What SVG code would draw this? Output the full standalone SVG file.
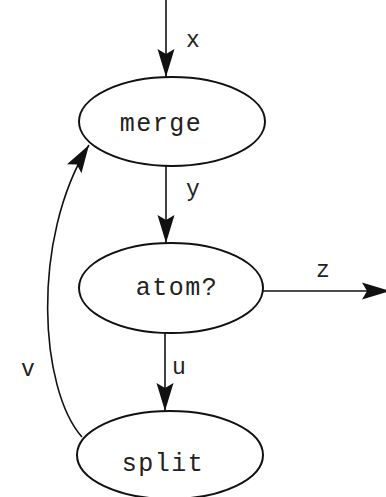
<svg xmlns="http://www.w3.org/2000/svg" width="386" height="497" viewBox="0 0 386 497">
<defs>
<style>
.node ellipse{fill:none;stroke:#111;stroke-width:2}
.lbl{font-family:"Liberation Mono","DejaVu Sans Mono",monospace;font-size:25px;letter-spacing:1.5px;fill:#222;text-anchor:middle}
.elbl{font-family:"Liberation Mono","DejaVu Sans Mono",monospace;font-size:23px;fill:#222;text-anchor:middle}
.edge{fill:none;stroke:#111;stroke-width:1.6;marker-end:url(#ah)}
</style>
<marker id="ah" markerUnits="userSpaceOnUse" markerWidth="40" markerHeight="30" viewBox="-30 -15 32 30" refX="0" refY="0" orient="auto">
<path d="M0,0 L-28,-8.5 L-23,0 L-28,8.5 Z" fill="#111"/>
</marker>
</defs>
<rect width="386" height="497" fill="#fff"/>
<g id="connectors">
<path class="edge" d="M166,0 L166,77"/>
<path class="edge" d="M166,166 L166,243"/>
<path class="edge" d="M165,332 L165,411"/>
<path class="edge" d="M263,291 L390,291"/>
<path class="edge" d="M82,437 C40,390 30,240 89,145"/>
<text class="elbl" x="193" y="47">x</text>
<text class="elbl" x="193" y="196">y</text>
<text class="elbl" x="179" y="374">u</text>
<text class="elbl" x="323" y="277">z</text>
<text class="elbl" x="28" y="376">v</text>
</g>
<g id="merge" class="node">
<ellipse cx="172" cy="121.5" rx="93" ry="44.5"/>
<text class="lbl" x="161" y="131">merge</text>
</g>
<g id="atom" class="node">
<ellipse cx="171" cy="288" rx="92" ry="45"/>
<text class="lbl" x="177" y="295">atom?</text>
</g>
<g id="split" class="node">
<ellipse cx="170" cy="455" rx="93" ry="44"/>
<text class="lbl" x="163" y="471">split</text>
</g>
</svg>
